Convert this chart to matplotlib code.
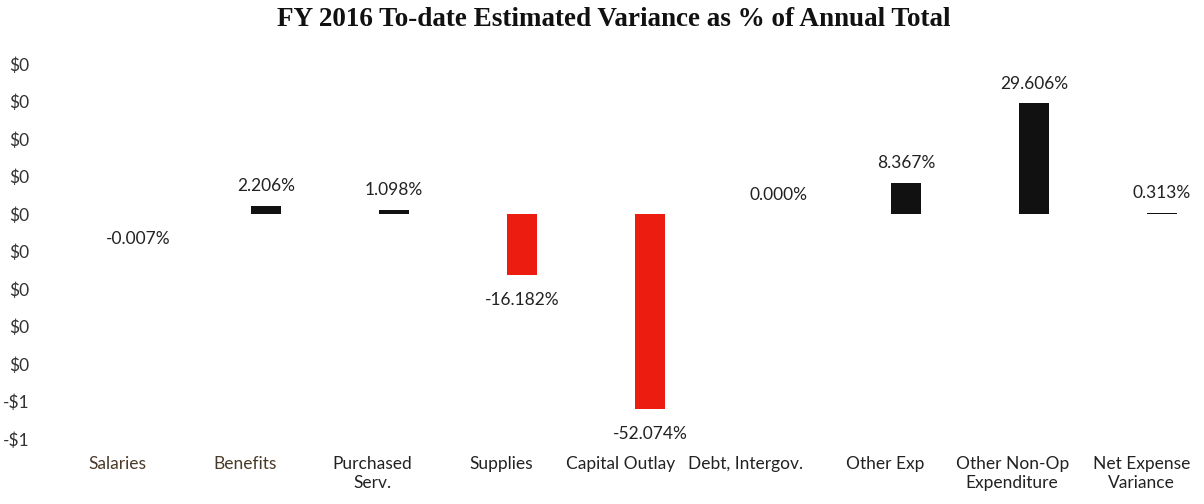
import numpy as np
import matplotlib.pyplot as plt

# ── data ──
categories = ["Salaries", "Benefits", "Purchased\nServ.", "Supplies",
              "Capital Outlay", "Debt, Intergov.", "Other Exp",
              "Other Non-Op\nExpenditure", "Net Expense\nVariance"]
variance = [-0.00007, 0.02206, 0.01098, -0.16182, -0.52074,
            0.0, 0.08367, 0.29606, 0.00313]
y_ticks = [0.4, 0.3, 0.2, 0.1, 0.0, -0.1, -0.2, -0.3, -0.4, -0.5, -0.6]
y_tick_labels = ["$0"] * 9 + ["-$1", "-$1"]

plt.rcParams["font.family"] = ["Lato", "DejaVu Sans"]

W, H = 1204, 504
fig = plt.figure(figsize=(W / 100, H / 100), dpi=100, facecolor="white")

# axes placed in pixel terms: bar 0 at px 138, 128 px per bar
ax_l, ax_r, ax_t, ax_b = 60, 1200, 64, 439
ax = fig.add_axes([ax_l / W, 1 - ax_b / H, (ax_r - ax_l) / W, (ax_b - ax_t) / H])
x0, step = 138, 128
ax.set_xlim((ax_l - x0) / step, (ax_r - x0) / step)
ax.set_ylim(-0.6, 0.4)

x = np.arange(len(categories))
colors = ["#111111" if v >= 0 else "#ec1c10" for v in variance]
ax.bar(x, variance, width=0.23, color=colors)

for xi, v in zip(x, variance):
    dy = 14 if v >= 0 else -18
    ax.annotate(f"{v*100:.3f}%", (xi, v), xytext=(0, dy),
                textcoords="offset points", ha="center", va="center",
                fontsize=12.5, color="#222222")

# category labels sit a little left of their bars in the original
label_shift = np.array([-0.16, -0.16, -0.17, -0.16, -0.23, -0.25, -0.16, -0.17, -0.16])

ax.set_yticks(y_ticks)
ax.set_yticklabels(y_tick_labels, fontsize=12.5, color="#333333")
ax.set_xticks(x + label_shift)
ax.set_xticklabels(categories, fontsize=12.5, color="#222222", linespacing=1.25)
for lbl in ax.get_xticklabels()[:2]:
    lbl.set_color("#4a3a28")
ax.tick_params(axis="both", length=0)
ax.tick_params(axis="y", pad=22)
ax.tick_params(axis="x", pad=12)
for sp in ax.spines.values():
    sp.set_visible(False)

fig.text(0.51, 1 - 20 / H, "FY 2016 To-date Estimated Variance as % of Annual Total",
         ha="center", va="center", fontsize=19.5, fontweight="bold",
         family="Liberation Serif", color="#111111")

fig.savefig("out.png", dpi=100, facecolor="white")
